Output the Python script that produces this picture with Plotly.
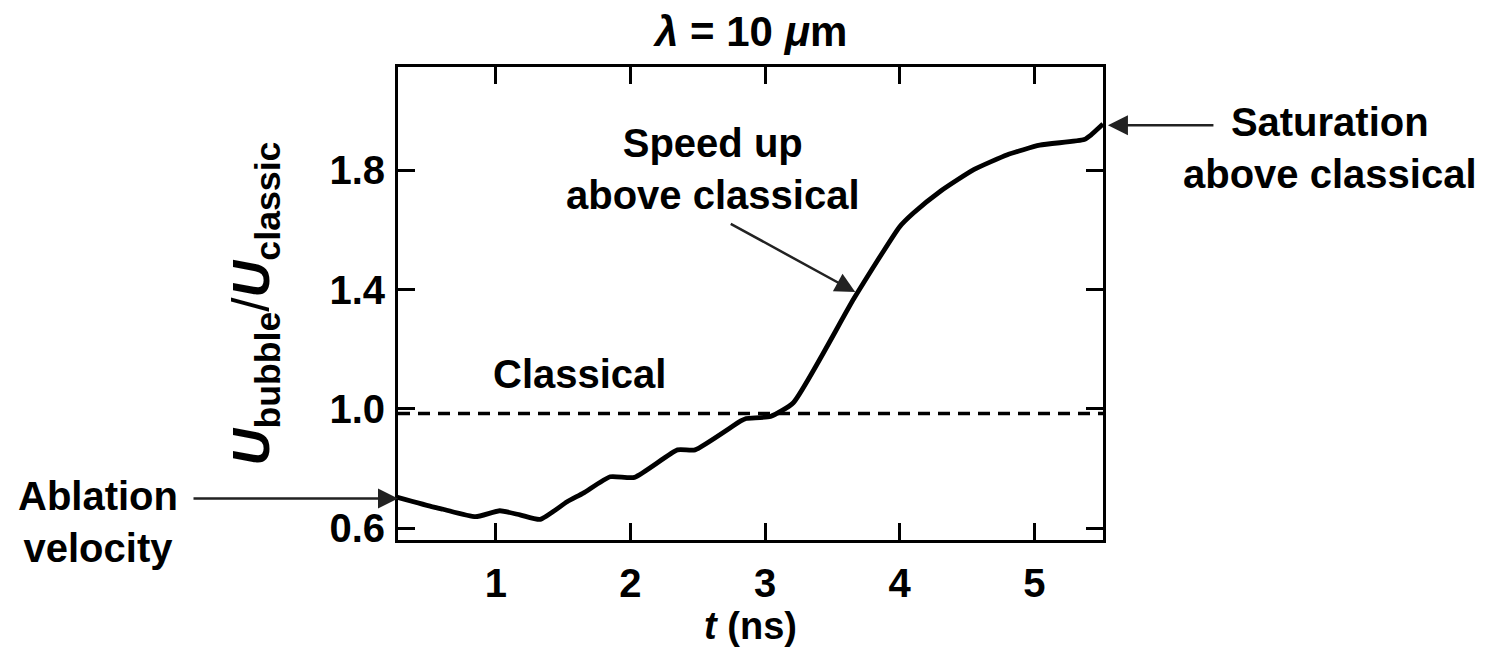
import plotly.graph_objects as go

# Data
t_ns = [0.27, 0.54, 0.61, 0.85, 1.03, 1.18, 1.33, 1.53, 1.65, 1.85, 2.03, 2.35, 2.48,
        2.82, 2.86, 3.04, 3.21, 3.66, 4.00, 4.10, 4.30, 4.55, 4.80, 5.04, 5.37, 5.42, 5.51]
u_ratio = [0.704, 0.671, 0.664, 0.639, 0.659, 0.645, 0.630, 0.689, 0.718, 0.773, 0.771,
           0.863, 0.863, 0.960, 0.968, 0.975, 1.021, 1.370, 1.611, 1.656, 1.729, 1.802,
           1.852, 1.884, 1.903, 1.918, 1.955]
classical_level = 0.985
x_ticks = [1, 2, 3, 4, 5]
y_ticks = [0.6, 1.0, 1.4, 1.8]
y_tick_labels = ["0.6", "1.0", "1.4", "1.8"]
x_range = [0.274, 5.51]
y_range = [0.561, 2.146]

FONT = "Liberation Sans, Arial, Helvetica, sans-serif"
BLACK = "#000000"

fig = go.Figure()
fig.add_trace(go.Scatter(x=t_ns, y=u_ratio, mode="lines",
                         line=dict(color=BLACK, width=4.8, shape="spline", smoothing=0.5),
                         showlegend=False, hoverinfo="skip"))

fig.add_shape(type="line", xref="paper", x0=0, x1=1, yref="y",
              y0=classical_level, y1=classical_level,
              line=dict(color=BLACK, width=3.5, dash="12px,8px"))

axis_common = dict(showgrid=False, zeroline=False, showline=True, linecolor=BLACK,
                   linewidth=3, mirror="ticks", ticks="inside", ticklen=17,
                   tickwidth=2.5, tickcolor=BLACK,
                   tickfont=dict(family=FONT, size=40, color=BLACK, weight="bold"))

fig.update_layout(
    width=1493, height=665,
    margin=dict(l=390, r=398, t=59, b=133),
    paper_bgcolor="white", plot_bgcolor="white",
    font=dict(family=FONT, color=BLACK),
    xaxis=dict(range=x_range, tickvals=x_ticks, ticklabelstandoff=6,
               title=dict(text="<b><i>t</i> (ns)</b>", font=dict(family=FONT, size=38),
                          standoff=8),
               **axis_common),
    yaxis=dict(range=y_range, tickvals=y_ticks, ticktext=y_tick_labels,
               ticklabelstandoff=2,
               title=dict(text=("<b><i>U</i><sub>bubble</sub></b>/"
                                "<b><i>U</i><sub>classic</sub></b>"),
                          font=dict(family=FONT, size=51), standoff=44),
               **axis_common),
)

txt = dict(family=FONT, size=40, color=BLACK)

# Title
fig.add_annotation(xref="paper", yref="paper", x=0.499, y=1.076,
                   text="<b><i>λ</i> = 10 <i>μ</i>m</b>",
                   showarrow=False,
                   font=dict(family=FONT, size=42, color=BLACK),
                   xanchor="center", yanchor="middle")

# Text labels
fig.add_annotation(xref="paper", yref="paper", x=0.257, y=0.351, text="<b>Classical</b>",
                   showarrow=False, font=txt, xanchor="center", yanchor="middle")
fig.add_annotation(xref="paper", yref="paper", x=0.447, y=0.785,
                   text="<b>Speed up<br>above classical</b>",
                   showarrow=False, font=txt, xanchor="center", yanchor="middle")
fig.add_annotation(xref="paper", yref="paper", x=1.322, y=0.828,
                   text="<b>Saturation<br>above classical</b>",
                   showarrow=False, font=txt, xanchor="center", yanchor="middle")
fig.add_annotation(xref="paper", yref="paper", x=-0.426, y=0.038,
                   text="<b>Ablation<br>velocity</b>",
                   showarrow=False, font=txt, xanchor="center", yanchor="middle")

# Arrows
arrow = dict(text="", showarrow=True, arrowhead=2, arrowsize=1.6, arrowwidth=2.5,
             arrowcolor="#222222", standoff=0)
fig.add_annotation(xref="x", yref="y", x=3.67, y=1.392, ax=-126, ay=-69, **arrow)
fig.add_annotation(xref="paper", yref="y", x=0, y=0.70, ax=-206, ay=0, **arrow)
fig.add_annotation(xref="paper", yref="y", x=1.007, y=1.951, ax=107, ay=0, **arrow)

fig.write_html("out.html")
